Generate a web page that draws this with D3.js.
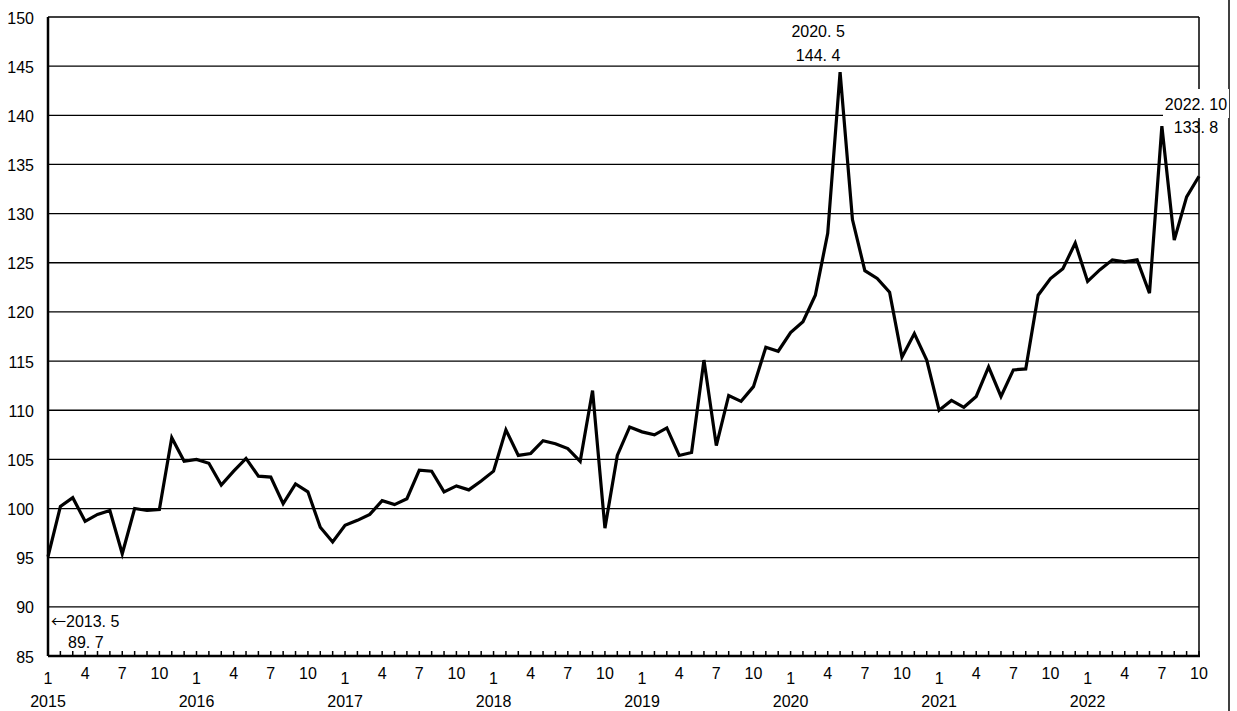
<!doctype html>
<html>
<head>
<meta charset="utf-8">
<title>Index 2015-2022</title>
<script src="https://d3js.org/d3.v7.min.js"></script>
<style>
  body { margin: 0; background: #fff; }
  text { font-family: "Liberation Sans", Arial, sans-serif; fill: #000; font-size: 16px; }
</style>
</head>
<body>
<script>
// monthly values, 2015.1 - 2022.10
var values = [
  95.1, 100.2, 101.1, 98.7, 99.4, 99.8, 95.4, 100.0, 99.8, 99.9, 107.2, 104.8,
  105.0, 104.6, 102.4, 103.8, 105.1, 103.3, 103.2, 100.5, 102.5, 101.7, 98.1, 96.6,
  98.3, 98.8, 99.4, 100.8, 100.4, 101.0, 103.9, 103.8, 101.7, 102.3, 101.9, 102.8,
  103.8, 108.0, 105.4, 105.6, 106.9, 106.6, 106.1, 104.8, 112.0, 98.0, 105.4, 108.3,
  107.8, 107.5, 108.2, 105.4, 105.7, 115.1, 106.4, 111.5, 110.9, 112.4, 116.4, 116.0,
  117.9, 119.0, 121.7, 128.0, 144.4, 129.4, 124.2, 123.4, 122.0, 115.4, 117.8, 115.1,
  110.0, 111.0, 110.3, 111.4, 114.4, 111.4, 114.1, 114.2, 121.7, 123.4, 124.4, 127.0,
  123.1, 124.3, 125.3, 125.1, 125.3, 121.9, 138.9, 127.3, 131.7, 133.8
];
var years = [2015, 2016, 2017, 2018, 2019, 2020, 2021, 2022];
var monthLabels = [1, 4, 7, 10];
var yTicks = [85, 90, 95, 100, 105, 110, 115, 120, 125, 130, 135, 140, 145, 150];

(function() {
var width = 1237, height = 711;
var plotLeft = 48, plotRight = 1199, plotTop = 17, plotBottom = 656;

var x = d3.scaleLinear().domain([0, values.length - 1]).range([plotLeft, plotRight]);
var y = d3.scaleLinear().domain([85, 150]).range([plotBottom, plotTop]);

var svg = d3.select("body").append("svg")
    .attr("width", width)
    .attr("height", height);

// gridlines (150 is the top of the frame)
svg.selectAll("line.grid")
    .data(yTicks.filter(function(d) { return d > 85; }))
    .enter()
    .append("line")
    .attr("class", "grid")
    .attr("x1", plotLeft).attr("x2", plotRight)
    .attr("y1", function(d) { return y(d); })
    .attr("y2", function(d) { return y(d); })
    .attr("stroke", "#000")
    .attr("stroke-width", 1.3);

// right edge of plot
svg.append("line")
    .attr("x1", plotRight).attr("x2", plotRight)
    .attr("y1", plotTop).attr("y2", plotBottom)
    .attr("stroke", "#000").attr("stroke-width", 1.5);

// outer right border line
svg.append("line")
    .attr("x1", 1229).attr("x2", 1229)
    .attr("y1", 0).attr("y2", height)
    .attr("stroke", "#000").attr("stroke-width", 1.5);

// y labels
svg.selectAll("text.ylab")
    .data(yTicks)
    .enter()
    .append("text")
    .attr("class", "ylab")
    .attr("x", 34)
    .attr("y", function(d) { return y(d) + 6.5; })
    .attr("text-anchor", "end")
    .text(function(d) { return d; });

// month ticks
var idx = d3.range(values.length);
svg.selectAll("line.tick")
    .data(idx)
    .enter()
    .append("line")
    .attr("class", "tick")
    .attr("x1", function(d) { return x(d); })
    .attr("x2", function(d) { return x(d); })
    .attr("y1", plotBottom).attr("y2", plotBottom - 5)
    .attr("stroke", "#000").attr("stroke-width", 1.5);

// month labels
svg.selectAll("text.mlab")
    .data(idx.filter(function(d) { return monthLabels.indexOf(d % 12 + 1) >= 0; }))
    .enter()
    .append("text")
    .attr("class", "mlab")
    .attr("x", function(d) { return x(d); })
    .attr("y", function(d) { return d % 12 === 0 ? 684 : 679; })
    .attr("text-anchor", "middle")
    .text(function(d) { return d % 12 + 1; });

// year labels
svg.selectAll("text.year")
    .data(years)
    .enter()
    .append("text")
    .attr("class", "year")
    .attr("x", function(d, i) { return x(i * 12); })
    .attr("y", 707)
    .attr("text-anchor", "middle")
    .text(function(d) { return d; });

// axes
svg.append("line")
    .attr("x1", plotLeft).attr("x2", plotRight + 1)
    .attr("y1", plotBottom).attr("y2", plotBottom)
    .attr("stroke", "#000").attr("stroke-width", 2.5);
svg.append("line")
    .attr("x1", plotLeft).attr("x2", plotLeft)
    .attr("y1", plotTop).attr("y2", plotBottom)
    .attr("stroke", "#000").attr("stroke-width", 2.5);

// series line
var line = d3.line()
    .x(function(d, i) { return x(i); })
    .y(function(d) { return y(d); });

svg.append("path")
    .datum(values)
    .attr("d", line)
    .attr("fill", "none")
    .attr("stroke", "#000")
    .attr("stroke-width", 3.2)
    .attr("stroke-linejoin", "miter");

// annotations
svg.append("rect")
    .attr("x", 1163).attr("y", 89)
    .attr("width", 66).attr("height", 29)
    .attr("fill", "#fff");

svg.append("text")
    .attr("x", 1196).attr("y", 110)
    .attr("text-anchor", "middle")
    .text("2022. 10");
svg.append("text")
    .attr("x", 1196).attr("y", 133)
    .attr("text-anchor", "middle")
    .text("133. 8");

svg.append("text")
    .attr("x", x(64) - 22).attr("y", 37)
    .attr("text-anchor", "middle")
    .text("2020. 5");
svg.append("text")
    .attr("x", x(64) - 22).attr("y", 61)
    .attr("text-anchor", "middle")
    .text("144. 4");

var note = svg.append("text")
    .attr("x", 51).attr("y", 627);
note.append("tspan")
    .style("font-family", "'Noto Sans CJK JP', sans-serif")
    .style("font-size", "15px")
    .text("←");
note.append("tspan")
    .text("2013. 5");
svg.append("text")
    .attr("x", 68).attr("y", 648)
    .text("89. 7");
})();
</script>
</body>
</html>
